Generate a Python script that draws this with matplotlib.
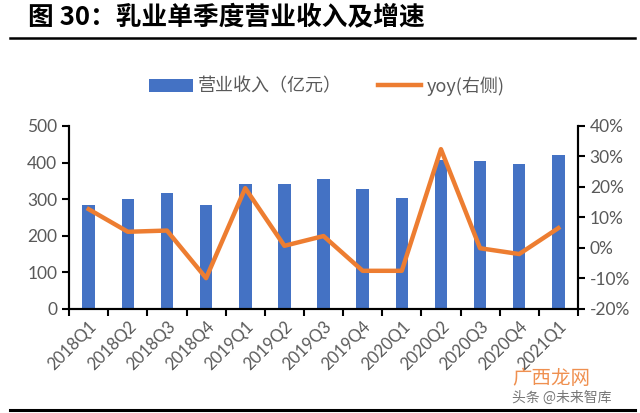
import matplotlib
matplotlib.use("Agg")
import matplotlib.pyplot as plt
from matplotlib.ticker import FuncFormatter, MultipleLocator
import numpy as np

plt.rcParams['font.family'] = ['Lato', 'Noto Sans CJK SC', 'DejaVu Sans']

quarters = ["2018Q1", "2018Q2", "2018Q3", "2018Q4", "2019Q1", "2019Q2", "2019Q3",
            "2019Q4", "2020Q1", "2020Q2", "2020Q3", "2020Q4", "2021Q1"]
revenue = [284, 300, 317, 284, 342, 342, 356, 329, 304, 406, 403, 395, 421]
yoy = [12.7, 5.3, 5.7, -9.9, 19.6, 0.7, 3.9, -7.5, -7.5, 32.4, -0.1, -2.0, 6.5]

title = "图 30：乳业单季度营业收入及增速"
bar_label = "营业收入（亿元）"
line_label = "yoy(右侧)"

blue = "#4472C4"
orange = "#ED7D31"
gray = "#595959"

fig = plt.figure(figsize=(6.4, 4.13), dpi=100)
ax = fig.add_axes([0.108, 0.252, 0.795, 0.443])
ax2 = ax.twinx()

x = np.arange(len(quarters))
ax.bar(x, revenue, width=0.32, color=blue, zorder=2, label=bar_label)
ax2.plot(x, yoy, color=orange, lw=3.2, zorder=3, label=line_label)

ax.set_xlim(-0.5, len(quarters) - 0.5)
ax.set_ylim(0, 500)
ax.yaxis.set_major_locator(MultipleLocator(100))
ax2.set_ylim(-20, 40)
ax2.yaxis.set_major_locator(MultipleLocator(10))
ax2.yaxis.set_major_formatter(FuncFormatter(lambda v, p: f"{v:.0f}%"))

ax.set_xticks(x)
ax.set_xticklabels(quarters, rotation=45, ha='right', rotation_mode='anchor',
                   fontsize=12, color=gray)
ax.tick_params(axis='x', length=0, pad=7)
ax.set_xticks(np.arange(-0.5, len(quarters), 1), minor=True)
ax.tick_params(axis='x', which='minor', length=5, width=1.5, color='black', direction='out')

for a in (ax, ax2):
    a.spines['top'].set_visible(False)
    for s in ('left', 'right', 'bottom'):
        a.spines[s].set_linewidth(1.5)
        a.spines[s].set_color('black')
ax.tick_params(axis='y', labelsize=12.5, labelcolor=gray, length=5, width=1.5, color='black')
ax2.tick_params(axis='y', labelsize=12.5, labelcolor=gray, length=5, width=1.5, color='black')
ax.set_zorder(ax2.get_zorder() - 1)
ax.patch.set_visible(True)
ax2.patch.set_visible(False)

# title and rules
fig.text(0.044, 0.956, title, fontsize=18.5, fontweight='bold', va='center', ha='left',
         family=['Noto Sans CJK SC', 'DejaVu Sans'], color='black')
fig.add_artist(plt.Line2D([0.016, 0.992], [0.908, 0.908], color='black', lw=1.8))
fig.add_artist(plt.Line2D([0.016, 0.992], [0.008, 0.008], color='black', lw=2.2))

# legend
h1, l1 = ax.get_legend_handles_labels()
h2, l2 = ax2.get_legend_handles_labels()
leg = fig.legend(h1 + h2, l1 + l2, loc='center', bbox_to_anchor=(0.511, 0.792), ncol=2,
                 frameon=False, columnspacing=2.0, handlelength=2.4, handletextpad=0.3,
                 prop={'family': ['Noto Sans CJK SC', 'DejaVu Sans'], 'size': 13})
for t in leg.get_texts():
    t.set_color(gray)

# watermark
fig.text(0.80, 0.083, "广西龙网", fontsize=14, color=orange, alpha=0.85,
         family=['Noto Sans CJK SC', 'DejaVu Sans'], ha='left', va='center')
fig.text(0.80, 0.036, "头条 @未来智库", fontsize=10, color="#555555", alpha=0.8,
         family=['Noto Sans CJK SC', 'DejaVu Sans'], ha='left', va='center')

fig.savefig("out.png", dpi=100)
